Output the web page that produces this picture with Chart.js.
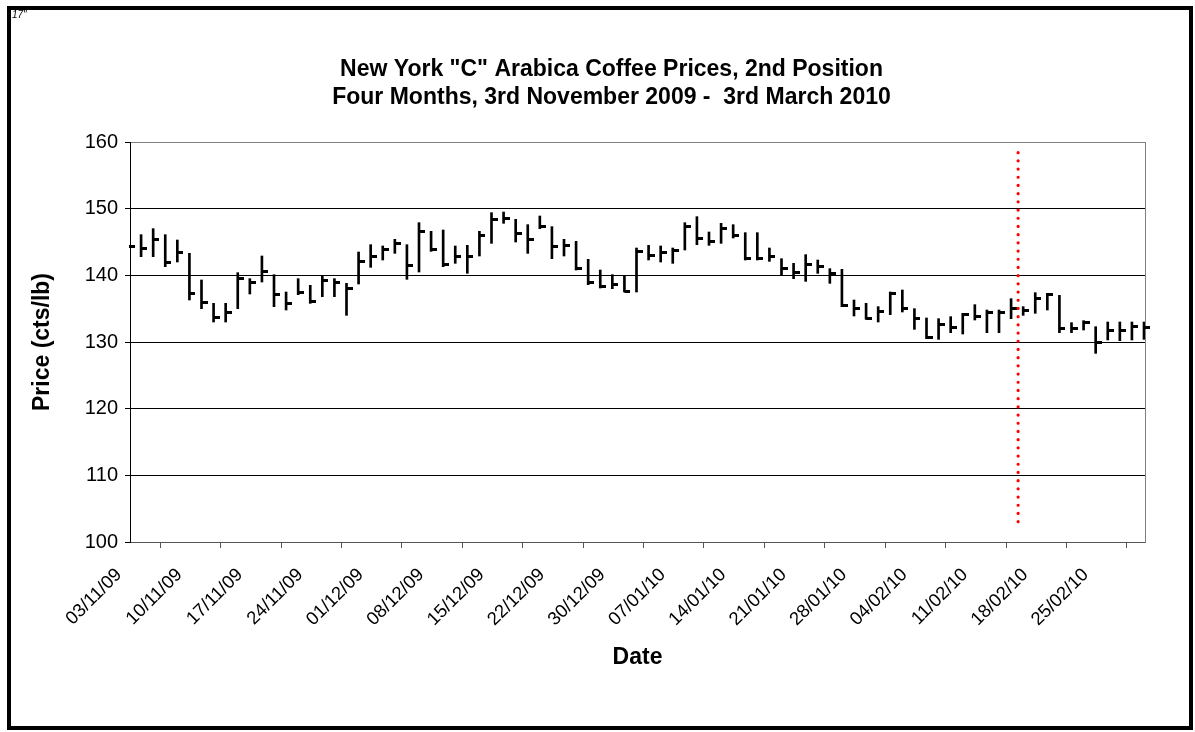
<!DOCTYPE html>
<html><head><meta charset="utf-8">
<script src="https://cdn.jsdelivr.net/npm/chart.js@4.4.0/dist/chart.umd.min.js"></script>
<style>
html,body{margin:0;padding:0;background:#fff;overflow:hidden}
#wrap{position:absolute;left:0;top:0;width:1195px;height:732px}
#frame{position:absolute;left:7px;top:6px;width:1186px;height:724px;border:4px solid #000;box-sizing:border-box;pointer-events:none}
#note{position:absolute;left:12px;top:9px;font:italic 10px Arial,"Liberation Sans",sans-serif;color:#000}
</style></head><body>
<div id="wrap"><canvas id="c" width="1195" height="732"></canvas></div>
<div id="frame"></div><div id="note">17"</div>
<script>
const dates = [
 "03/11/09","04/11/09","05/11/09","06/11/09","09/11/09","10/11/09","11/11/09","12/11/09","13/11/09","16/11/09",
 "17/11/09","18/11/09","19/11/09","20/11/09","23/11/09","24/11/09","25/11/09","26/11/09","27/11/09","30/11/09",
 "01/12/09","02/12/09","03/12/09","04/12/09","07/12/09","08/12/09","09/12/09","10/12/09","11/12/09","14/12/09",
 "15/12/09","16/12/09","17/12/09","18/12/09","21/12/09","22/12/09","23/12/09","24/12/09","28/12/09","29/12/09",
 "30/12/09","31/12/09","04/01/10","05/01/10","06/01/10","07/01/10","08/01/10","11/01/10","12/01/10","13/01/10",
 "14/01/10","15/01/10","18/01/10","19/01/10","20/01/10","21/01/10","22/01/10","25/01/10","26/01/10","27/01/10",
 "28/01/10","29/01/10","01/02/10","02/02/10","03/02/10","04/02/10","05/02/10","08/02/10","09/02/10","10/02/10",
 "11/02/10","12/02/10","15/02/10","16/02/10","17/02/10","18/02/10","19/02/10","22/02/10","23/02/10","24/02/10",
 "25/02/10","26/02/10","01/03/10","02/03/10","03/03/10"
];
const highs = [
 145.4,146.1,147.0,146.1,145.3,143.3,139.3,135.8,135.8,140.4,
 139.5,142.9,140.1,137.5,139.5,138.5,139.9,139.5,138.8,143.5,
 144.6,144.4,145.4,144.6,147.9,146.6,146.8,144.4,144.5,146.6,
 149.4,149.5,148.4,147.6,148.9,147.3,145.4,145.1,142.4,140.8,
 140.1,140.0,144.1,144.5,144.4,144.1,147.9,148.8,146.5,147.8,
 147.6,146.4,146.4,144.1,142.5,141.8,143.1,142.3,141.0,140.9,
 136.3,135.8,135.3,137.5,137.8,135.0,133.6,133.5,133.8,134.3,
 135.6,134.8,134.8,136.5,135.3,137.4,137.3,137.0,132.9,133.2,
 132.3,133.0,133.0,133.0,133.0
];
const lows = [
 142.0,142.8,142.8,141.3,142.0,136.3,135.0,133.0,133.0,135.0,
 137.2,139.0,135.3,134.8,137.1,135.8,136.8,136.8,134.0,138.7,
 141.2,142.3,143.3,139.4,140.5,143.6,141.3,141.8,140.3,142.9,
 144.8,147.8,145.0,143.3,147.0,142.5,142.9,140.8,138.6,138.1,
 138.0,137.5,137.5,142.3,142.0,141.8,143.8,144.6,144.5,144.8,
 145.6,142.3,142.3,142.1,140.1,139.5,139.1,140.3,138.8,135.3,
 133.9,133.4,133.0,134.1,134.5,131.9,130.5,130.4,131.4,131.2,
 133.3,131.4,131.4,133.5,134.0,134.3,134.8,131.4,131.4,131.8,
 128.3,130.3,130.2,130.3,130.4
];
const closes = [
 144.3,144.0,145.4,142.0,143.4,137.3,135.9,133.7,134.4,139.6,
 138.9,140.6,137.2,135.8,137.5,136.1,139.2,139.0,138.1,142.1,
 142.9,143.9,144.8,141.5,146.6,143.9,141.6,142.9,142.8,146.0,
 148.4,148.5,146.3,145.4,147.4,144.4,144.5,141.0,138.9,138.3,
 138.6,137.6,143.6,143.0,143.5,143.8,147.4,145.6,145.1,147.0,
 146.0,142.5,142.5,142.8,141.0,140.5,141.6,141.4,140.3,135.5,
 135.0,133.6,134.6,137.3,135.0,133.5,130.7,132.6,132.2,134.2,
 133.9,134.5,134.5,135.0,134.8,136.5,137.2,132.0,132.0,132.9,
 130.0,131.8,131.8,132.3,132.2
];
const markerPosition = 73.5;   // between 16/02/10 and 17/02/10
const markerTop = 158.4;
const markerBottom = 102.7;
const yMin = 100, yMax = 160, yStep = 10;

const FAMILY = 'Arial, "Liberation Sans", sans-serif';

// close tick mark (drawn to the right of the high-low bar)
const tick = document.createElement('canvas');
tick.width = 10; tick.height = 3;
const tctx = tick.getContext('2d');
tctx.fillStyle = '#000';
tctx.fillRect(4, 0, 6, 3);

new Chart(document.getElementById('c'), {
  type: 'bar',
  data: {
    labels: dates,
    datasets: [
      { type:'bar', data: lows.map((l,i)=>[l, highs[i]]), backgroundColor:'#000', borderWidth:0,
        barThickness:2, xAxisID:'x', yAxisID:'y', order:2 },
      { type:'line', data: closes, showLine:false, pointStyle: tick, pointRadius:3,
        xAxisID:'x', yAxisID:'y', order:1 },
      { type:'line', data:[{x:markerPosition,y:markerTop},{x:markerPosition,y:markerBottom}],
        xAxisID:'x2', yAxisID:'y', borderColor:'#ff0000', borderWidth:3.2,
        borderDash:[0,8.2], borderCapStyle:'round', pointRadius:0, fill:false, order:0 }
    ]
  },
  options: {
    responsive:false, animation:false,
    layout:{ padding:{left:28, right:0, top:0, bottom:0} },
    plugins:{
      legend:{display:false}, tooltip:{enabled:false},
      title:{ display:true, color:'#000',
        text:['New York "C" Arabica Coffee Prices, 2nd Position','Four Months, 3rd November 2009 -  3rd March 2010'],
        font:{family:FAMILY, size:23, weight:'bold', lineHeight:1.2},
        padding:{top:56, bottom:30.8} }
    },
    scales:{
      x:{ type:'category', offset:false,
        afterBuildTicks: s => { s.ticks = s.ticks.filter(t => t.value % 5 === 0); },
        afterFit: s => { s.height = 190; },
        grid:{ drawOnChartArea:false, drawTicks:true, tickLength:6, color:'#555' },
        border:{ color:'#555', width:1 },
        ticks:{ autoSkip:false, maxRotation:45, minRotation:45, color:'#000',
          font:{family:FAMILY, size:18.5}, padding:16, labelOffset:-11 },
        title:{ display:true, text:'Date', color:'#000',
          font:{family:FAMILY, size:23, weight:'bold'}, padding:{top:0, bottom:61} }
      },
      x2:{ type:'linear', display:false, offset:false, min:0, max:dates.length-1 },
      y:{ min:yMin, max:yMax,
        afterFit: s => { s.width = 102; },
        ticks:{ stepSize:yStep, color:'#000', font:{family:FAMILY, size:20}, padding:7 },
        grid:{ color: c => (c.tick && c.tick.value === yMax) ? '#808080' : '#000', tickLength:5, tickColor:'#000' },
        border:{ color:'#000' },
        title:{ display:true, text:'Price (cts/lb)', color:'#000',
          font:{family:FAMILY, size:23, weight:'bold'}, padding:{top:1, bottom:0} }
      },
      y2:{ type:'linear', position:'right', display:true,
        afterFit: s => { s.width = 50; },
        grid:{ display:false, drawTicks:false }, ticks:{ display:false },
        border:{ display:true, color:'#808080' } }
    }
  }
});
</script>
</body></html>
